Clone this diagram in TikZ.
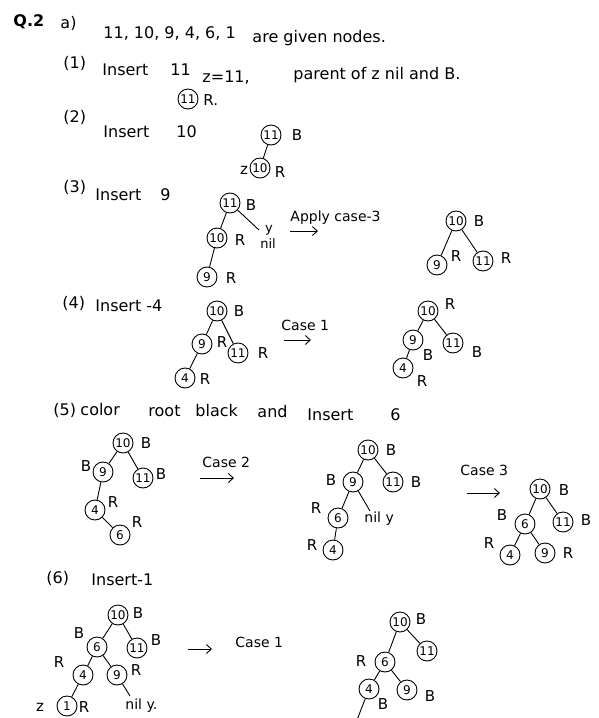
\documentclass[tikz,border=0pt]{standalone}
\usepackage{fontspec}
\setmainfont{DejaVu Sans}
\usepackage{tikz}
\usetikzlibrary{positioning}
\usetikzlibrary{arrows.meta}
\tikzset{rbnode/.style = {draw, circle, inner sep = 0, minimum size = 20,
                          font = \fontsize{12}{13}\selectfont}}
\tikzset{clr/.style = {inner sep = 0, font = \fontsize{15}{17}\selectfont}}
\tikzset{txt/.style = {anchor = west, inner sep = 0, font = \fontsize{16}{19}\selectfont}}
\tikzset{note/.style = {anchor = west, inner sep = 0, font = \fontsize{14}{16}\selectfont}}
\tikzset{goes/.style = {-{Straight Barb[length=5pt, width=9pt]}}}

\begin{document}
\begin{tikzpicture}[x=1pt, y=-1pt, line width=0.9pt]
    \clip (0,0) rectangle (598,718);

    % heading
    \node[txt, font=\bfseries\fontsize{16}{19}\selectfont] (q2) at (13,22) {Q.2};
    \node[txt] (qa) at (60,23) {a)};
    \node[txt] (given) at (103,33) {11, 10, 9, 4, 6, 1};
    \node[txt] (givenb) at (252,38) {are given nodes.};

    % (1) Insert 11
    \node[txt] (s1) at (63,63) {(1)};
    \node[txt] (s1a) at (102,70) {Insert};
    \node[txt] (s1b) at (170,70) {11};
    \node[txt] (s1c) at (202,78) {z=11,};
    \node[txt] (s1d) at (293,75) {parent of z nil and B.};
    \node[rbnode] (a11) at (188,99) {11};
    \node[clr, anchor=west] (a11c) at (203,100) {R.};

    % (2) Insert 10
    \node[txt] (s2) at (63,117) {(2)};
    \node[txt] (s2a) at (103,132) {Insert};
    \node[txt] (s2b) at (176,132) {10};
    \node[rbnode] (b11) at (271,135) {11};
    \node[clr] (b11c) at (297,135) {B};
    \node[rbnode] (b10) at (260,168) {10};
    \node[clr] (b10z) at (244,170) {z};
    \node[clr] (b10c) at (280,172) {R};
    \draw (b11) -- (b10);

    % (3) Insert 9
    \node[txt] (s3) at (63,187) {(3)};
    \node[txt] (s3a) at (95,195) {Insert};
    \node[txt] (s3b) at (160,195) {9};
    \node[rbnode] (c11) at (230,203) {11};
    \node[clr] (c11c) at (251,205) {B};
    \node[rbnode] (c10) at (217,238) {10};
    \node[clr] (c10c) at (240,240) {R};
    \node[rbnode] (c9) at (207,277) {9};
    \node[clr] (c9c) at (231,278) {R};
    \coordinate (cnil) at (259,230);
    \node[clr, font=\fontsize{13}{15}\selectfont] (cy) at (269,230) {y};
    \node[clr, font=\fontsize{13}{15}\selectfont] (cn) at (268,244) {nil};
    \draw (c11) -- (c10);
    \draw (c10) -- (c9);
    \draw (c11) -- (cnil);
    \node[note] (s3n) at (290,218) {Apply case-3};
    \coordinate (s3l) at (290,231);
    \coordinate (s3r) at (318,231);
    \draw[goes] (s3l) -- (s3r);
    \node[rbnode] (d10) at (456,221) {10};
    \node[clr] (d10c) at (479,221) {B};
    \node[rbnode] (d9) at (437,265) {9};
    \node[clr] (d9c) at (456,256) {R};
    \node[rbnode] (d11) at (483,261) {11};
    \node[clr] (d11c) at (506,258) {R};
    \draw (d10) -- (d9);
    \draw (d10) -- (d11);

    % (4) Insert 4
    \node[txt] (s4) at (62,303) {(4)};
    \node[txt] (s4a) at (95,306) {Insert -4};
    \node[rbnode] (e10) at (217,311) {10};
    \node[clr] (e10c) at (239,311) {B};
    \node[rbnode] (e9) at (202,344) {9};
    \node[clr] (e9c) at (222,342) {R};
    \node[rbnode] (e11) at (238,353) {11};
    \node[clr] (e11c) at (263,353) {R};
    \node[rbnode] (e4) at (185,378) {4};
    \node[clr] (e4c) at (205,379) {R};
    \draw (e10) -- (e9);
    \draw (e10) -- (e11);
    \draw (e9) -- (e4);
    \node[note] (s4n) at (281,325) {Case 1};
    \coordinate (s4l) at (284,340);
    \coordinate (s4r) at (311,340);
    \draw[goes] (s4l) -- (s4r);
    \node[rbnode] (f10) at (428,311) {10};
    \node[clr] (f10c) at (450,304) {R};
    \node[rbnode] (f9) at (413,340) {9};
    \node[clr] (f9c) at (428,355) {B};
    \node[rbnode] (f11) at (453,343) {11};
    \node[clr] (f11c) at (477,352) {B};
    \node[rbnode] (f4) at (403,368) {4};
    \node[clr] (f4c) at (422,381) {R};
    \draw (f10) -- (f9);
    \draw (f10) -- (f11);
    \draw (f9) -- (f4);

    % (5) color root black and Insert 6
    \node[txt] (s5) at (53,410) {(5)};
    \node[txt] (s5a) at (80,410) {color};
    \node[txt] (s5b) at (148,411) {root};
    \node[txt] (s5c) at (195,411) {black};
    \node[txt] (s5d) at (257,412) {and};
    \node[txt] (s5e) at (307,415) {Insert};
    \node[txt] (s5f) at (390,415) {6};
    \node[rbnode] (g10) at (123,443) {10};
    \node[clr] (g10c) at (146,443) {B};
    \node[rbnode] (g9) at (103,472) {9};
    \node[clr] (g9c) at (86,466) {B};
    \node[rbnode] (g11) at (143,478) {11};
    \node[clr] (g11c) at (161,474) {B};
    \node[rbnode] (g4) at (95,510) {4};
    \node[clr] (g4c) at (113,502) {R};
    \node[rbnode] (g6) at (120,535) {6};
    \node[clr] (g6c) at (137,522) {R};
    \draw (g10) -- (g9);
    \draw (g10) -- (g11);
    \draw (g9) -- (g4);
    \draw (g4) -- (g6);
    \node[note] (s5n) at (202,462) {Case 2};
    \coordinate (s5l) at (200,478);
    \coordinate (s5r) at (234,478);
    \draw[goes] (s5l) -- (s5r);
    \node[rbnode] (h10) at (368,450) {10};
    \node[clr] (h10c) at (391,450) {B};
    \node[rbnode] (h9) at (353,482) {9};
    \node[clr] (h9c) at (331,480) {B};
    \node[rbnode] (h11) at (393,482) {11};
    \node[clr] (h11c) at (416,482) {B};
    \node[rbnode] (h6) at (338,518) {6};
    \node[clr] (h6c) at (316,508) {R};
    \node[rbnode] (h4) at (333,550) {4};
    \node[clr] (h4c) at (312,545) {R};
    \coordinate (hnil) at (370,511);
    \node[note] (hn) at (364,519) {nil y};
    \draw (h10) -- (h9);
    \draw (h10) -- (h11);
    \draw (h9) -- (h6);
    \draw (h6) -- (h4);
    \draw (h9) -- (hnil);
    \node[note] (s5m) at (460,470) {Case 3};
    \coordinate (s5ml) at (467,493);
    \coordinate (s5mr) at (500,493);
    \draw[goes] (s5ml) -- (s5mr);
    \node[rbnode] (i10) at (540,489) {10};
    \node[clr] (i10c) at (564,490) {B};
    \node[rbnode] (i6) at (525,524) {6};
    \node[clr] (i6c) at (502,515) {B};
    \node[rbnode] (i11) at (563,522) {11};
    \node[clr] (i11c) at (586,520) {B};
    \node[rbnode] (i4) at (510,555) {4};
    \node[clr] (i4c) at (489,543) {R};
    \node[rbnode] (i9) at (545,553) {9};
    \node[clr] (i9c) at (568,553) {R};
    \draw (i10) -- (i6);
    \draw (i10) -- (i11);
    \draw (i6) -- (i4);
    \draw (i6) -- (i9);

    % (6) Insert 1
    \node[txt] (s6) at (46,578) {(6)};
    \node[txt] (s6a) at (91,580) {Insert-1};
    \node[rbnode] (j10) at (118,615) {10};
    \node[clr] (j10c) at (138,613) {B};
    \node[rbnode] (j6) at (97,647) {6};
    \node[clr] (j6c) at (79,633) {B};
    \node[rbnode] (j11) at (137,648) {11};
    \node[clr] (j11c) at (156,640) {B};
    \node[rbnode] (j4) at (83,675) {4};
    \node[clr] (j4c) at (59,662) {R};
    \node[rbnode] (j9) at (117,675) {9};
    \node[clr] (j9c) at (136,670) {R};
    \node[rbnode] (j1) at (67,706) {1};
    \node[clr] (j1c) at (84,707) {R};
    \node[clr] (j1z) at (40,707) {z};
    \coordinate (jnil) at (130,696);
    \node[note] (jn) at (125,706) {nil y.};
    \draw (j10) -- (j6);
    \draw (j10) -- (j11);
    \draw (j6) -- (j4);
    \draw (j6) -- (j9);
    \draw (j4) -- (j1);
    \draw (j9) -- (jnil);
    \coordinate (s6l) at (188,649);
    \coordinate (s6r) at (212,649);
    \draw[goes] (s6l) -- (s6r);
    \node[note] (s6n) at (235,642) {Case 1};
    \node[rbnode] (k10) at (400,622) {10};
    \node[clr] (k10c) at (421,619) {B};
    \node[rbnode] (k11) at (427,651) {11};
    \node[rbnode] (k6) at (385,662) {6};
    \node[clr] (k6c) at (361,661) {R};
    \node[rbnode] (k4) at (369,689) {4};
    \node[clr] (k4c) at (383,704) {B};
    \node[rbnode] (k9) at (407,690) {9};
    \node[clr] (k9c) at (430,696) {B};
    \coordinate (k1) at (357,720);
    \draw (k10) -- (k6);
    \draw (k10) -- (k11);
    \draw (k6) -- (k4);
    \draw (k6) -- (k9);
    \draw (k4) -- (k1);
\end{tikzpicture}
\end{document}
